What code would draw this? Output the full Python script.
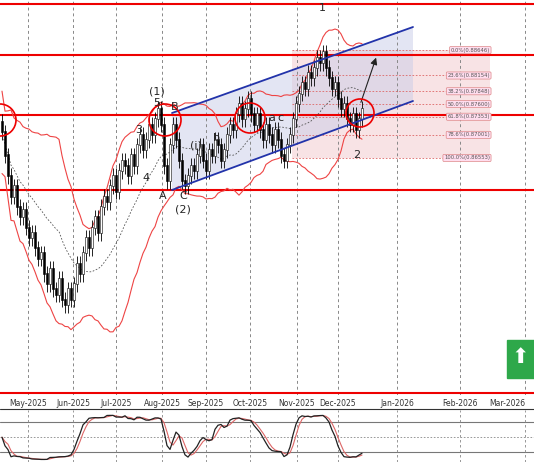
import numpy as np, pandas as pd, matplotlib
matplotlib.use("Agg")
import matplotlib.pyplot as plt, seaborn as sns
from matplotlib.patches import Ellipse, Rectangle, Polygon

closes = [0.8705,0.8660,0.8620,0.8580,0.8600,0.8560,0.8540,0.8555,0.8520,0.8500,0.8510,
0.8480,0.8460,0.8470,0.8430,0.8410,0.8440,0.8400,0.8390,0.8420,0.8380,0.8370,0.8400,
0.8380,0.8410,0.8450,0.8430,0.8470,0.8500,0.8480,0.8520,0.8540,0.8510,0.8560,0.8580,0.8570,
0.8600,0.8620,0.8590,0.8630,0.8650,0.8640,0.8620,0.8660,0.8640,0.8680,0.8700,0.8670,0.8690,0.8720,0.8700,0.8730,0.8750,0.8720,
0.8640,0.8610,0.8680,0.8720,0.8690,0.8650,0.8610,0.8600,
0.8620,0.8640,0.8630,0.8660,0.8680,0.8650,0.8630,0.8670,0.8660,0.8690,0.8680,0.8650,0.8670,0.8700,0.8720,0.8710,0.8740,0.8760,0.8730,0.8750,0.8770,0.8740,
0.8720,0.8740,0.8710,0.8690,0.8720,0.8700,0.8680,0.8710,0.8690,0.8660,0.8650,0.8680,
0.8700,0.8730,0.8760,0.8780,0.8800,0.8790,0.8820,0.8810,0.8830,0.8850,0.8840,0.8860,
0.8830,0.8810,0.8790,0.8800,0.8770,0.8750,0.8760,0.8730,0.8720,0.8740,0.8710,0.8730,0.8750]
month_labels = ["May-2025","Jun-2025","Jul-2025","Aug-2025","Sep-2025","Oct-2025","Nov-2025","Dec-2025","Jan-2026","Feb-2026","Mar-2026"]
month_pos = [28,73,116,162,206,250,297,338,397,460,525]
red_levels = [0.8955,0.8855,0.8739,0.8593,0.8199]
fib_pct = ["0.0%","23.6%","38.2%","50.0%","61.8%","78.6%","100.0%"]
fib_val = [0.88646,0.88154,0.87848,0.87600,0.87353,0.87001,0.86553]

sns.set_style("white")
W,H=534,462
fig=plt.figure(figsize=(5.34,4.62),dpi=100)
ax=fig.add_axes([0,67/H,1,395/H])
ax2=fig.add_axes([0,0,1,52/H])
TOP,BOT=0.8962,0.8195
ax.set_xlim(0,W); ax.set_ylim(BOT,TOP)
PPX=(TOP-BOT)/395
def px(y): return TOP-PPX*y

df=pd.DataFrame({"c":closes})
df["x"]=2+3*np.arange(len(df))
df["o"]=df["c"].shift(1).fillna(df["c"].iloc[0]+0.002)
df["h"]=df[["o","c"]].max(axis=1)+0.0015
df["l"]=df[["o","c"]].min(axis=1)-0.0015
ma=df["c"].rolling(20,min_periods=1).mean(); sd=df["c"].rolling(20,min_periods=2).std().fillna(0.004)
df["ma"]=ma; df["up"]=ma+2*sd; df["lo"]=ma-2*sd

ax.add_patch(Rectangle((292,fib_val[-1]),198,fib_val[0]-fib_val[-1],color="#f3c9cc",alpha=0.5,lw=0,zorder=0))
ax.add_patch(Polygon([(172,px(190)),(413,px(101)),(413,px(27)),(172,px(113))],closed=True,color="#c9cde8",alpha=0.5,lw=0,zorder=0))
for m in month_pos: ax.axvline(m,color="#888",ls=(0,(3,3)),lw=0.7,zorder=0.5)
for v in fib_val:
    ax.plot([292,490],[v,v],color="#d66",ls=(0,(2,2)),lw=0.6)
for p,v in zip(fib_pct,fib_val):
    ax.text(490,v,f"{p}({v:.5f})",fontsize=3.8,ha="right",va="center",color="#555",bbox=dict(boxstyle="round,pad=0.2",fc="#fde",ec="#d88",lw=0.5))
for r in red_levels: ax.axhline(r,color="#e00",lw=1.5,zorder=2)
sns.lineplot(x=df["x"],y=df["up"],ax=ax,color="#e44",lw=0.8)
sns.lineplot(x=df["x"],y=df["lo"],ax=ax,color="#e44",lw=0.8)
sns.lineplot(x=df["x"],y=df["ma"],ax=ax,color="#555",lw=0.6,ls=(0,(2,2)))
ax.vlines(df["x"],df["l"],df["h"],color="black",lw=0.6,zorder=3)
bull=df["c"]>=df["o"]
ax.bar(df["x"],(df["c"]-df["o"]).abs()+0.0002,bottom=df[["o","c"]].min(axis=1),width=2,color=np.where(bull,"white","black"),edgecolor="black",lw=0.4,zorder=4)
ax.plot([172,413],[px(190),px(101)],color="#2233aa",lw=1.3,zorder=5)
ax.plot([172,413],[px(113),px(27)],color="#2233aa",lw=1.3,zorder=5)
ax.annotate("",xy=(377,px(55)),xytext=(360,px(105)),arrowprops=dict(arrowstyle="-|>",color="#222",lw=0.8))
for cx,cy,r in [(0,120,16),(165,120,16),(250,118,15),(360,113,14)]:
    ax.add_patch(Ellipse((cx,px(cy)),2*r,2*r*PPX,fill=False,ec="#e00",lw=1.2,zorder=6))
for t,x,y in [("1",322,8),("(1)",157,92),("5",157,103),("B",175,107),("3",139,130),("4",146,178),("A",163,196),("C",183,196),("(2)",183,210),("2",357,155),("(i)",196,146),("b",217,138),("a",272,118),("c",280,118)]:
    ax.text(x,px(y),t,fontsize=8,ha="center",va="center",zorder=7)
ax.add_patch(Rectangle((507,px(378)),27,PPX*38,color="#2ea84a",zorder=7))
ax.text(520,px(357),"⬆",fontsize=15,color="white",ha="center",va="center",zorder=8)
ax.set_xticks([]); ax.set_yticks([])
for s in ax.spines.values(): s.set_visible(False)
for p,l in zip(month_pos,month_labels):
    fig.text(min(p/W,0.995),1-403/H,l,fontsize=5.5,ha="center" if p<500 else "right",va="center",color="#333")
fig.add_artist(plt.Line2D([0,1],[1-409/H]*2,color="#333",lw=0.8))

lo14=df["c"].rolling(14,min_periods=1).min()-0.001; hi14=df["c"].rolling(14,min_periods=1).max()+0.001
k=(100*(df["c"]-lo14)/(hi14-lo14)).rolling(3,min_periods=1).mean()
d=k.rolling(3,min_periods=1).mean()
ax2.set_xlim(0,W); ax2.set_ylim(0,105)
for v in [20,80]: ax2.axhline(v,color="#777",lw=0.8)
ax2.axhline(50,color="#888",ls=(0,(2,2)),lw=0.6)
for m in month_pos: ax2.axvline(m,color="#888",ls=(0,(3,3)),lw=0.6)
sns.lineplot(x=df["x"],y=d,ax=ax2,color="#d66",lw=0.8)
sns.lineplot(x=df["x"],y=k,ax=ax2,color="#222",lw=0.9)
ax2.set_xticks([]); ax2.set_yticks([]); ax2.set_xlabel(""); ax2.set_ylabel("")
ax.set_xlabel(""); ax.set_ylabel("")
for s in ax2.spines.values(): s.set_visible(False)
fig.savefig("out.png",dpi=100)
